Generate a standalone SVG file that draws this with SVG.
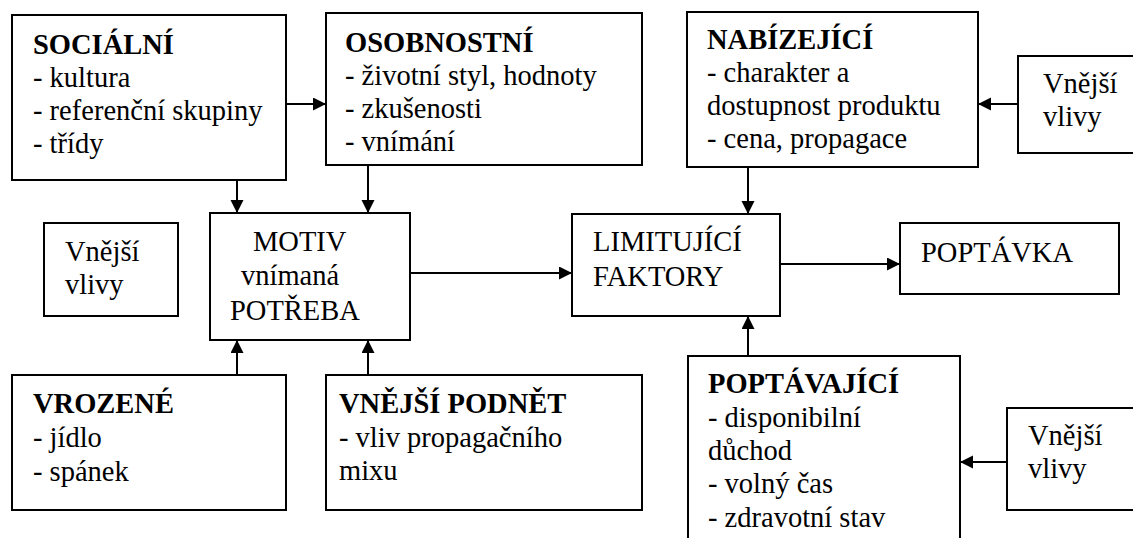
<svg xmlns="http://www.w3.org/2000/svg" width="1133" height="538" viewBox="0 0 1133 538">
<defs>
<marker id="ah" markerWidth="14" markerHeight="14" refX="13" refY="6.5" orient="auto" markerUnits="userSpaceOnUse">
<path d="M0,0 L13,6.5 L0,13 Z" fill="#000"/>
</marker>
<style>
rect{fill:#fff;stroke:#000;stroke-width:2}
text{font-family:"Liberation Serif","Times New Roman",serif;font-size:28.5px;fill:#000}
.b{font-weight:bold}
#connectors line{stroke:#000;stroke-width:2;marker-end:url(#ah)}
</style>
</defs>
<rect x="0" y="0" width="1133" height="538" style="fill:#fff;stroke:none"/>
<g id="connectors">
<line x1="286" y1="104" x2="326" y2="104"/>
<line x1="237" y1="180" x2="237" y2="213"/>
<line x1="368" y1="165" x2="368" y2="213"/>
<line x1="237" y1="375" x2="237" y2="340"/>
<line x1="368" y1="375" x2="368" y2="340"/>
<line x1="410" y1="273" x2="572" y2="273"/>
<line x1="748" y1="167" x2="748" y2="214"/>
<line x1="748" y1="356" x2="748" y2="316"/>
<line x1="780" y1="264" x2="900" y2="264"/>
<line x1="1018" y1="104" x2="978" y2="104"/>
<line x1="1007" y1="462" x2="960" y2="462"/>
</g>
<g id="socialni">
<rect x="12" y="15" width="274" height="165"/>
<text x="33" y="54" class="b">SOCIÁLNÍ</text>
<text x="33" y="87">- kultura</text>
<text x="33" y="120">- referenční skupiny</text>
<text x="33" y="153">- třídy</text>
</g>
<g id="osobnostni">
<rect x="326" y="13" width="316" height="152"/>
<text x="345" y="52" class="b">OSOBNOSTNÍ</text>
<text x="345" y="85">- životní styl, hodnoty</text>
<text x="345" y="118">- zkušenosti</text>
<text x="345" y="151">- vnímání</text>
</g>
<g id="nabizejici">
<rect x="687" y="12" width="291" height="155"/>
<text x="707" y="49" class="b">NABÍZEJÍCÍ</text>
<text x="707" y="82">- charakter a</text>
<text x="707" y="115">dostupnost produktu</text>
<text x="707" y="148">- cena, propagace</text>
</g>
<g id="vnejsi-top">
<rect x="1018" y="56" width="125" height="97"/>
<text x="1043" y="93">Vnější</text>
<text x="1043" y="126">vlivy</text>
</g>
<g id="vnejsi-left">
<rect x="44" y="223" width="134" height="93"/>
<text x="65" y="261">Vnější</text>
<text x="65" y="294">vlivy</text>
</g>
<g id="motiv">
<rect x="210" y="213" width="200" height="127"/>
<text x="253" y="251">MOTIV</text>
<text x="241" y="285">vnímaná</text>
<text x="230" y="320">POTŘEBA</text>
</g>
<g id="limitujici">
<rect x="572" y="214" width="208" height="102"/>
<text x="593" y="251">LIMITUJÍCÍ</text>
<text x="593" y="286">FAKTORY</text>
</g>
<g id="poptavka">
<rect x="900" y="223" width="219" height="71"/>
<text x="921" y="262">POPTÁVKA</text>
</g>
<g id="vrozene">
<rect x="12" y="375" width="274" height="135"/>
<text x="33" y="413" class="b">VROZENÉ</text>
<text x="33" y="447">- jídlo</text>
<text x="33" y="481">- spánek</text>
</g>
<g id="vnejsi-podnet">
<rect x="326" y="375" width="316" height="135"/>
<text x="339" y="413" class="b">VNĚJŠÍ PODNĚT</text>
<text x="339" y="447">- vliv propagačního</text>
<text x="339" y="480">mixu</text>
</g>
<g id="poptavajici">
<rect x="688" y="356" width="272" height="200"/>
<text x="708" y="393" class="b">POPTÁVAJÍCÍ</text>
<text x="708" y="427">- disponibilní</text>
<text x="708" y="460">důchod</text>
<text x="708" y="493">- volný čas</text>
<text x="708" y="527">- zdravotní stav</text>
</g>
<g id="vnejsi-bottom">
<rect x="1007" y="408" width="136" height="102"/>
<text x="1028" y="445">Vnější</text>
<text x="1028" y="478">vlivy</text>
</g>
</svg>
